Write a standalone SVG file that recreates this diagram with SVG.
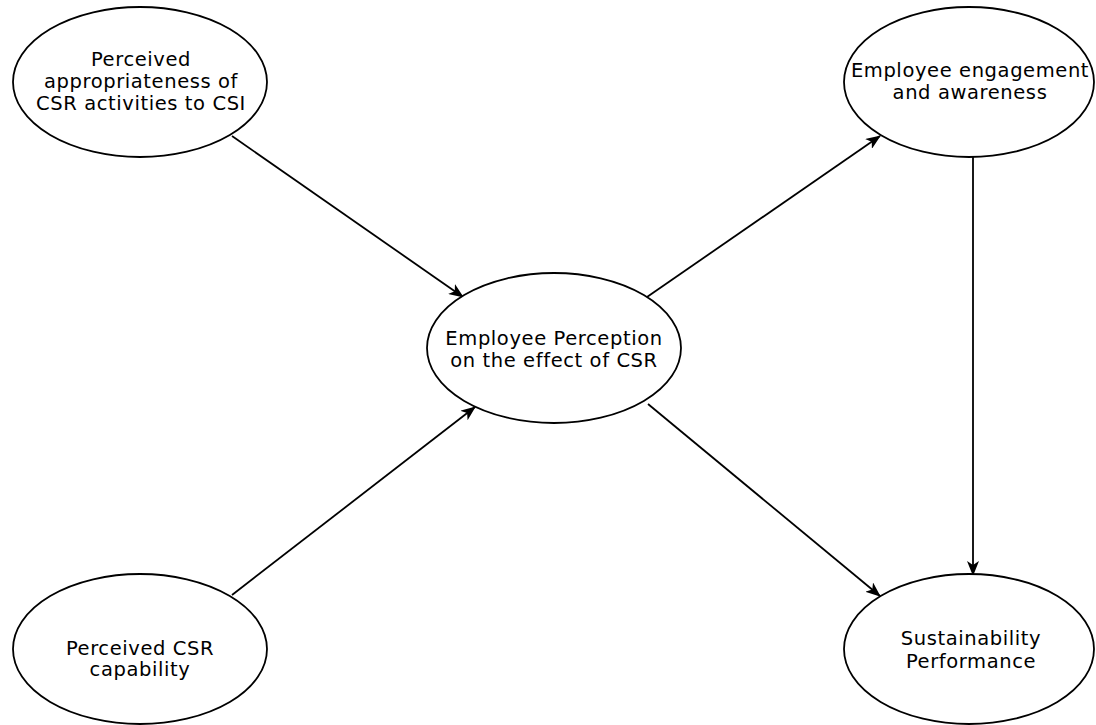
<svg xmlns="http://www.w3.org/2000/svg" width="1096" height="725" viewBox="0 0 1096 725">
<defs>
<style>
.node ellipse{fill:#ffffff;stroke:#000000;stroke-width:1.8}
.node text{font-family:"DejaVu Sans","Liberation Sans",sans-serif;font-size:19.5px;letter-spacing:0.6px;fill:#000000;text-anchor:middle}
.edge{stroke:#000000;stroke-width:1.8;fill:none;marker-end:url(#arrow)}
</style>
<marker id="arrow" viewBox="0 0 15 12" refX="14" refY="6" markerWidth="15" markerHeight="12" markerUnits="userSpaceOnUse" orient="auto">
<path d="M0,0 L15,6 L0,12 L4,6 Z" fill="#000000"/>
</marker>
</defs>
<rect width="1096" height="725" fill="#ffffff"/>
<g id="connectors">
<line class="edge" x1="232" y1="136" x2="463" y2="297"/>
<line class="edge" x1="232" y1="595" x2="475" y2="407"/>
<line class="edge" x1="647" y1="297" x2="880" y2="136"/>
<line class="edge" x1="648" y1="404" x2="880" y2="596"/>
<line class="edge" x1="973" y1="157" x2="973" y2="575"/>
</g>
<g id="node-appropriateness" class="node">
<ellipse cx="140" cy="82" rx="127" ry="75"/>
<text x="141" y="66">Perceived</text>
<text x="141" y="88">appropriateness of</text>
<text x="141" y="110">CSR activities to CSI</text>
</g>
<g id="node-engagement" class="node">
<ellipse cx="969" cy="82" rx="125" ry="75"/>
<text x="970" y="77">Employee engagement</text>
<text x="970" y="99">and awareness</text>
</g>
<g id="node-perception" class="node">
<ellipse cx="554" cy="348" rx="127" ry="75"/>
<text x="554" y="345">Employee Perception</text>
<text x="554" y="367">on the effect of CSR</text>
</g>
<g id="node-capability" class="node">
<ellipse cx="140" cy="649" rx="127" ry="75"/>
<text x="140" y="655">Perceived CSR</text>
<text x="140" y="676">capability</text>
</g>
<g id="node-sustainability" class="node">
<ellipse cx="969" cy="649" rx="125" ry="75"/>
<text x="971" y="645">Sustainability</text>
<text x="971" y="668">Performance</text>
</g>
</svg>
